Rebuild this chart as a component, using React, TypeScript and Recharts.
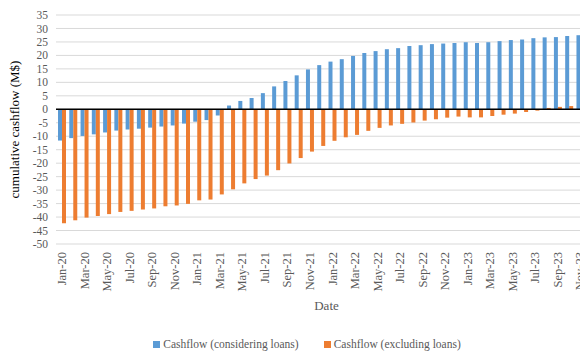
import React from "react";
import {
  BarChart,
  Bar,
  XAxis,
  YAxis,
  CartesianGrid,
  ReferenceLine,
  Legend,
} from "recharts";

const FONT = '"Liberation Serif", "Times New Roman", serif';
const TEXT_COLOR = "#595959";

const months = [
  "Jan-20", "Feb-20", "Mar-20", "Apr-20", "May-20", "Jun-20", "Jul-20", "Aug-20", "Sep-20", "Oct-20", "Nov-20", "Dec-20",
  "Jan-21", "Feb-21", "Mar-21", "Apr-21", "May-21", "Jun-21", "Jul-21", "Aug-21", "Sep-21", "Oct-21", "Nov-21", "Dec-21",
  "Jan-22", "Feb-22", "Mar-22", "Apr-22", "May-22", "Jun-22", "Jul-22", "Aug-22", "Sep-22", "Oct-22", "Nov-22", "Dec-22",
  "Jan-23", "Feb-23", "Mar-23", "Apr-23", "May-23", "Jun-23", "Jul-23", "Aug-23", "Sep-23", "Oct-23", "Nov-23", "Dec-23",
];

// cumulative cashflow in M$, with loans taken into account
const withLoans = [
  -11.6, -10.7, -9.9, -9.3, -8.6, -7.9, -7.5, -7.2, -6.8, -6.4, -6.0, -5.3,
  -4.6, -4.0, -2.3, 1.4, 3.1, 4.2, 6.0, 8.5, 10.5, 12.6, 14.8, 16.4,
  17.7, 18.6, 19.8, 20.9, 21.6, 22.3, 22.7, 23.5, 23.8, 24.2, 24.4, 24.6,
  24.9, 24.6, 24.9, 25.3, 25.7, 25.9, 26.4, 26.7, 26.8, 27.2, 27.5, 27.7,
];

// cumulative cashflow in M$, loans left out
const withoutLoans = [
  -42.3, -41.2, -40.2, -39.6, -38.9, -38.1, -37.7, -37.2, -36.8, -36.0, -35.7, -35.1,
  -33.8, -33.5, -31.6, -29.7, -27.5, -25.9, -24.6, -22.6, -20.1, -18.1, -15.7, -13.6,
  -11.7, -10.4, -9.5, -8.0, -6.9, -6.0, -5.4, -4.9, -4.2, -3.7, -3.1, -2.7,
  -3.0, -3.0, -2.5, -2.0, -1.6, -1.0, -0.5, 0.5, 0.9, 1.2, 1.6, 1.9,
];

const yTicks = [35, 30, 25, 20, 15, 10, 5, 0, -5, -10, -15, -20, -25, -30, -35, -40, -45, -50];

const SERIES = [
  { key: "considering", name: "Cashflow (considering loans)", color: "#5b9bd5" },
  { key: "excluding", name: "Cashflow (excluding loans)", color: "#ed7d31" },
];

const data = months.map((month, i) => ({
  month,
  considering: withLoans[i],
  excluding: withoutLoans[i],
}));

const MonthTick = (props: any) => {
  const { x, y, payload } = props;
  return (
    <text
      x={x}
      y={y}
      transform={`rotate(-90, ${x}, ${y})`}
      textAnchor="end"
      dy="0.35em"
      fontSize={12.5}
      fontFamily={FONT}
      fill={TEXT_COLOR}
    >
      {payload.value}
    </text>
  );
};

const SeriesLegend = () => (
  <div
    style={{
      display: "flex",
      justifyContent: "center",
      gap: 25,
      paddingLeft: 9,
      fontFamily: FONT,
      fontSize: 11.5,
      color: TEXT_COLOR,
      lineHeight: "20px",
    }}
  >
    {SERIES.map((s) => (
      <div key={s.key} style={{ display: "flex", alignItems: "center" }}>
        <span
          style={{ width: 7, height: 7, background: s.color, marginRight: 3, display: "inline-block" }}
        />
        <span>{s.name}</span>
      </div>
    ))}
  </div>
);

export default function App() {
  return (
    <div style={{ width: 580, height: 346, overflow: "hidden" }}>
      <BarChart
        width={600}
        height={346}
        data={data}
        margin={{ top: 7, right: 11, bottom: 0, left: 0 }}
        barSize={4}
        barGap={0}
      >
        <CartesianGrid vertical={false} stroke="#d9d9d9" />
        <XAxis
          dataKey="month"
          interval={1}
          height={90}
          axisLine={false}
          tickLine={false}
          tick={<MonthTick />}
          label={{
            value: "Date",
            position: "insideBottom",
            offset: 24,
            style: { fontFamily: FONT, fontSize: 13, fill: TEXT_COLOR },
          }}
        />
        <YAxis
          width={48}
          domain={[-50, 35]}
          ticks={yTicks}
          interval={0}
          axisLine={false}
          tickLine={false}
          tick={{ fontFamily: FONT, fontSize: 11.5, fill: TEXT_COLOR }}
          label={{
            value: "cumulative cashflow (M$)",
            angle: -90,
            position: "insideLeft",
            offset: 6,
            style: { textAnchor: "middle", fontFamily: FONT, fontSize: 13, fill: "#000" },
          }}
        />
        <Legend verticalAlign="bottom" height={20} content={<SeriesLegend />} />
        {SERIES.map((s) => (
          <Bar
            key={s.key}
            dataKey={s.key}
            name={s.name}
            fill={s.color}
            isAnimationActive={false}
          />
        ))}
        <ReferenceLine y={0} stroke="#000" strokeWidth={1.5} />
      </BarChart>
    </div>
  );
}
